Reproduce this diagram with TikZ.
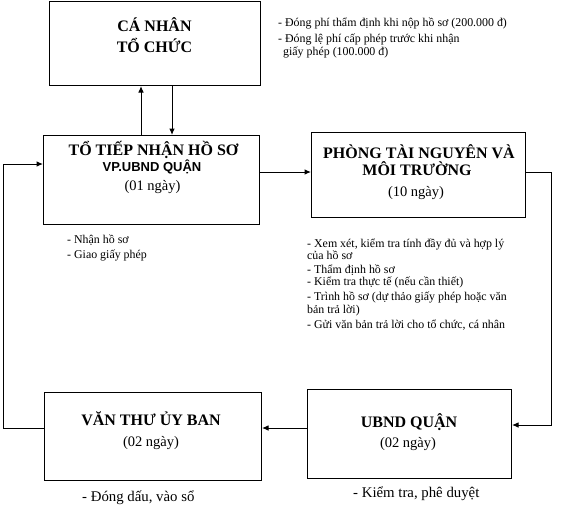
\documentclass[tikz,border=0pt]{standalone}
\usepackage{fontspec}
\setmainfont{Liberation Serif}
\newfontfamily\arialf{Liberation Sans}
\usetikzlibrary{arrows.meta}
\begin{document}
\begin{tikzpicture}[x=1pt,y=-1pt,
  boxst/.style={draw,line width=1pt,inner sep=0pt,anchor=north west},
  ttl/.style={font=\fontsize{16}{18}\selectfont\bfseries,anchor=base,inner sep=0pt},
  days/.style={font=\fontsize{14.5}{17}\selectfont,anchor=base,inner sep=0pt},
  note/.style={font=\fontsize{11.9}{13}\selectfont,anchor=base west,inner sep=0pt},
  bignote/.style={font=\fontsize{14.8}{17}\selectfont,anchor=base west,inner sep=0pt},
  conn/.style={line width=1pt,-{Latex[length=6.5pt,width=5.5pt]}},
]
\useasboundingbox (0,0) rectangle (581,522);
% boxes
\node[boxst,minimum width=211pt,minimum height=84pt] (b1) at (49,1) {};
\node[boxst,minimum width=216pt,minimum height=89pt] (b2) at (43,135) {};
\node[boxst,minimum width=214pt,minimum height=85pt] (b3) at (311,132) {};
\node[boxst,minimum width=204pt,minimum height=89pt] (b4) at (307,389) {};
\node[boxst,minimum width=217pt,minimum height=88pt] (b5) at (44,392) {};
% box texts
\node[ttl] (t1a) at (154.5,31) {CÁ NHÂN};
\node[ttl] (t1b) at (154.5,52) {TỔ CHỨC};
\node[ttl] (t2a) at (153.5,155) {TỔ TIẾP NHẬN HỒ SƠ};
\node[ttl,font=\arialf\fontsize{13}{15}\selectfont\bfseries] (t2b) at (152,171) {VP.UBND QUẬN};
\node[days] (t2c) at (152.5,190) {(01 ngày)};
\node[ttl] (t3a) at (419,158) {PHÒNG TÀI NGUYÊN VÀ};
\node[ttl] (t3b) at (417,175) {MÔI TRƯỜNG};
\node[days] (t3c) at (416,196) {(10 ngày)};
\node[ttl] (t4a) at (409,427) {UBND QUẬN};
\node[days] (t4b) at (408,447) {(02 ngày)};
\node[ttl] (t5a) at (151,425) {VĂN THƯ ỦY BAN};
\node[days] (t5b) at (151,446) {(02 ngày)};
% notes
\node[note] (n1a) at (278,27) {- Đóng phí thẩm định khi nộp hồ sơ (200.000 đ)};
\node[note] (n1b) at (278,42) {- Đóng lệ phí cấp phép trước khi nhận};
\node[note] (n1c) at (283,55) {giấy phép (100.000 đ)};
\node[note] (n2a) at (67,243) {- Nhận hồ sơ};
\node[note] (n2b) at (67,258) {- Giao giấy phép};
\node[note] (n3a) at (307,247) {- Xem xét, kiểm tra tính đầy đủ và hợp lý};
\node[note] (n3b) at (307,259) {của hồ sơ};
\node[note] (n3c) at (307,273) {- Thẩm định hồ sơ};
\node[note] (n3d) at (307,285) {- Kiểm tra thực tế (nếu cần thiết)};
\node[note] (n3e) at (307,300) {- Trình hồ sơ (dự thảo giấy phép hoặc văn};
\node[note] (n3f) at (307,313) {bản trả lời)};
\node[note] (n3g) at (307,328) {- Gửi văn bản trả lời cho tổ chức, cá nhân};
\node[bignote] (n4) at (353,497) {- Kiểm tra, phê duyệt};
\node[bignote] (n5) at (82,501) {- Đóng dấu, vào sổ};
% helper coordinates
\coordinate (ua) at (141,0);
\coordinate (da) at (172,0);
\coordinate (ya) at (0,172);
\coordinate (c1) at (551,172);
\coordinate (c2) at (551,425);
\coordinate (c3) at (0,428);
\coordinate (c4) at (3,428);
\coordinate (c5) at (3,164);
% connectors
\draw[conn] (b2.north -| ua) -- (b1.south -| ua);
\draw[conn] (b1.south -| da) -- (b2.north -| da);
\draw[conn] (b2.east |- ya) -- (b3.west |- ya);
\draw[conn] (b3.east |- c1) -- (c1) -- (c2) -- (b4.east |- c2);
\draw[conn] (b4.west |- c3) -- (b5.east |- c3);
\draw[conn] (b5.west |- c3) -- (c4) -- (c5) -- (b2.west |- c5);
\end{tikzpicture}
\end{document}
